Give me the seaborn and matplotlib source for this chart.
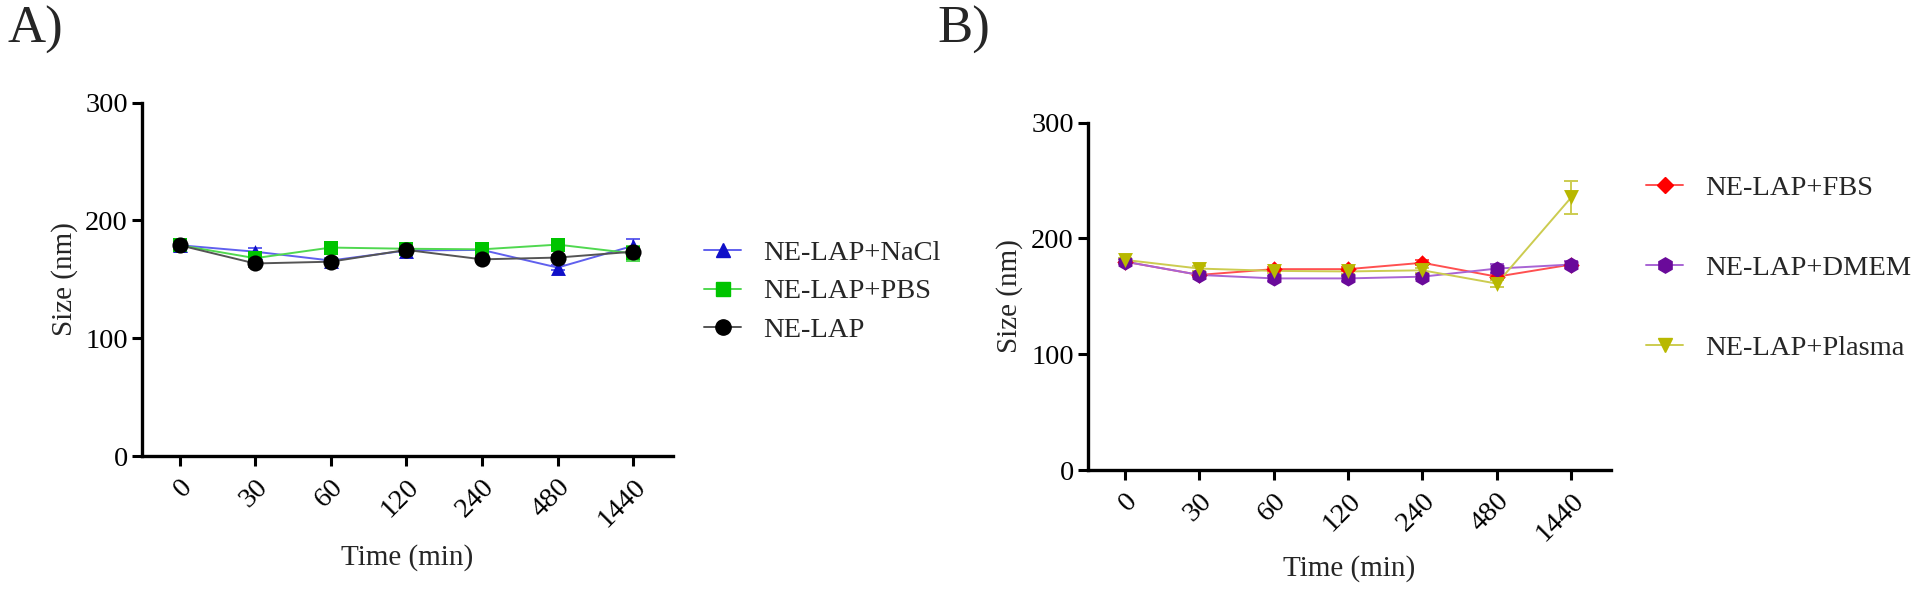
import matplotlib
matplotlib.use("Agg")
import matplotlib.pyplot as plt
import seaborn as sns
import numpy as np
import pandas as pd
from matplotlib.lines import Line2D

# ---------------- data ----------------
time_labels = ["0", "30", "60", "120", "240", "480", "1440"]

a_names = ["NE-LAP+NaCl", "NE-LAP+PBS", "NE-LAP"]
a_nacl = [179, 173.5, 166, 174.5, 175, 160, 178.5]
a_nacl_err = [2, 3, 2, 2, 2, 2, 6]
a_pbs = [179, 168, 177, 176, 175.5, 179.5, 172]
a_pbs_err = [2, 3, 2, 2, 2, 2, 6]
a_ne = [179, 163.5, 165, 175, 167, 168.5, 173.5]
a_ne_err = [2, 3, 2, 2, 2, 2, 3]

b_names = ["NE-LAP+FBS", "NE-LAP+DMEM", "NE-LAP+Plasma"]
b_fbs = [180, 168.5, 173.5, 173.5, 179, 167, 177.5]
b_fbs_err = [2, 2, 2, 2, 2, 2, 3]
b_dmem = [180, 168.5, 165.5, 165.5, 167, 174, 177.5]
b_dmem_err = [2, 2, 2, 2, 2, 4, 3]
b_plasma = [181.5, 174, 172, 171.5, 172.5, 161, 235.5]
b_plasma_err = [2, 2, 2, 2, 2, 3, 14.5]

y_ticks = [0, 100, 200, 300]

# ---------------- style ----------------
sns.set_style("ticks")
plt.rcParams["font.family"] = ["Liberation Serif", "DejaVu Serif"]

fig = plt.figure(figsize=(19.2, 5.93), dpi=100)
axA = fig.add_axes([0.0738, 0.2310, 0.2769, 0.5958])
axB = fig.add_axes([0.5665, 0.2074, 0.2724, 0.5857])


def draw(ax, names, vals, errs, markers, mcolors, lcolors, sizes):
    rows = []
    for n, v in zip(names, vals):
        for i, y in enumerate(v):
            rows.append({"x": i, "size": y, "group": n})
    df = pd.DataFrame(rows)
    lpal = dict(zip(names, lcolors))
    sns.lineplot(data=df, x="x", y="size", hue="group", palette=lpal,
                 hue_order=names, ax=ax, legend=False, linewidth=1.4,
                 errorbar=None, sort=False, zorder=2)
    for n, v, e, lc in zip(names, vals, errs, lcolors):
        ax.errorbar(np.arange(len(v)), v, yerr=e, fmt="none", ecolor=lc,
                    elinewidth=1.4, capsize=5, capthick=1.4, zorder=2)
    for n, m, mc, s in zip(names, markers, mcolors, sizes):
        sub = df[df["group"] == n]
        sns.scatterplot(data=sub, x="x", y="size", color=mc, marker=m,
                        s=s, linewidth=0, ax=ax, legend=False, zorder=3)

    ax.set_xlim(-0.5, 6.53)
    ax.set_ylim(0, 300)
    ax.set_yticks(y_ticks)
    ax.set_xticks(range(len(time_labels)))
    ax.set_xticklabels(time_labels, rotation=45, ha="right", va="top",
                       rotation_mode="anchor")
    for s in ["top", "right"]:
        ax.spines[s].set_visible(False)
    for s in ["left", "bottom"]:
        ax.spines[s].set_linewidth(2.4)
        ax.spines[s].set_color("black")
    ax.tick_params(axis="both", length=7, width=2.2, labelsize=20.5,
                   color="black", labelcolor="black")
    ax.tick_params(axis="y", pad=3)
    ax.tick_params(axis="x", pad=6)
    ax.set_xlabel("Time (min)", fontsize=21)
    ax.set_ylabel("Size (nm)", fontsize=21)
    ax.xaxis.label.set_va("center")
    ax.yaxis.label.set_va("center")


a_markers = ["^", "s", "o"]
a_mcol = ["#1010c8", "#00c400", "#000000"]
a_lcol = ["#6060ee", "#50d850", "#555555"]
draw(axA, a_names, [a_nacl, a_pbs, a_ne], [a_nacl_err, a_pbs_err, a_ne_err],
     a_markers, a_mcol, a_lcol, [115, 105, 135])
axA.xaxis.set_label_coords(0.5, -0.286)
axA.yaxis.set_label_coords(-0.1456, 0.5)

b_markers = ["D", "h", "v"]
b_mcol = ["#ff0000", "#6a0a9a", "#b8b800"]
b_lcol = ["#ff5050", "#a864d4", "#cccc50"]
draw(axB, b_names, [b_fbs, b_dmem, b_plasma], [b_fbs_err, b_dmem_err, b_plasma_err],
     b_markers, b_mcol, b_lcol, [70, 135, 115])
axB.xaxis.set_label_coords(0.5, -0.284)
axB.yaxis.set_label_coords(-0.150, 0.5)


def handles(markers, mcolors, lcolors, msizes):
    return [Line2D([0], [0], color=lc, lw=1.4, marker=m, markerfacecolor=mc,
                   markeredgecolor=mc, markersize=ms)
            for m, mc, lc, ms in zip(markers, mcolors, lcolors, msizes)]


fig.legend(handles(a_markers, a_mcol, a_lcol, [10, 10, 11]), a_names,
           loc="upper left", bbox_to_anchor=(0.3667, 0.5956), frameon=False,
           fontsize=20.5, handlelength=1.3, handletextpad=0.79,
           labelspacing=0.45, borderpad=0, borderaxespad=0)
fig.legend(handles(b_markers, b_mcol, b_lcol, [8, 11, 10]), b_names,
           loc="upper left", bbox_to_anchor=(0.8573, 0.7049), frameon=False,
           fontsize=20.5, handlelength=1.3, handletextpad=0.79,
           labelspacing=1.90, borderpad=0, borderaxespad=0)

fig.text(7 / 1920, 1 - 6 / 593, "A)", fontsize=38, ha="left", va="top")
fig.text(937 / 1920, 1 - 6 / 593, "B)", fontsize=38, ha="left", va="top")

fig.savefig("out.png", dpi=100)
